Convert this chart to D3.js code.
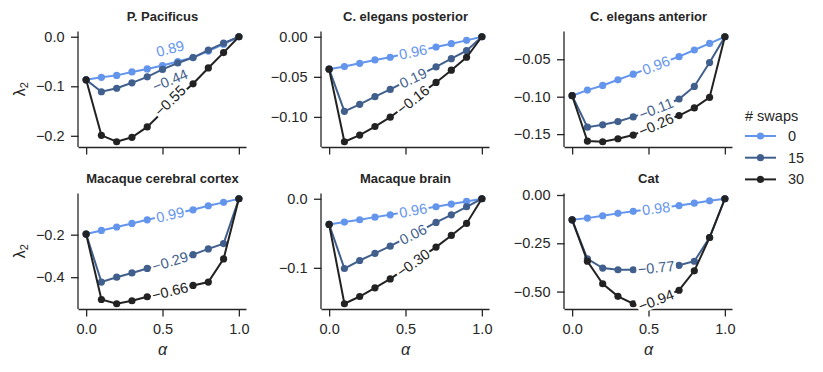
<!DOCTYPE html>
<html>
<head>
<meta charset="utf-8">
<script src="https://cdn.jsdelivr.net/npm/d3@7"></script>
<style>
  body { margin: 0; background: #fff; }
  text { font-family: "Liberation Sans", Arial, sans-serif; fill: #262626; }
</style>
</head>
<body>
<div id="chart"></div>
<script>
var w = 823;
var h = 372;

var alphas = [0, 0.1, 0.2, 0.3, 0.4, 0.5, 0.6, 0.7, 0.8, 0.9, 1.0];
var swaps = ["0", "15", "30"];
var colors = ["#6495ed", "#415f8c", "#222222"];
var titles = ["P. Pacificus", "C. elegans posterior", "C. elegans anterior",
              "Macaque cerebral cortex", "Macaque brain", "Cat"];

// lambda_2 per swap count (0, 15, 30), one block per network
var pPacificus = [
  [-0.087, -0.082, -0.078, -0.071, -0.065, -0.058, -0.050, -0.042, -0.029, -0.015, 0.0],
  [-0.087, -0.111, -0.104, -0.093, -0.081, -0.066, -0.053, -0.042, -0.027, -0.013, 0.0],
  [-0.087, -0.199, -0.212, -0.203, -0.182, -0.152, -0.122, -0.095, -0.063, -0.032, 0.0]
];
var celegansPost = [
  [-0.0405, -0.0372, -0.0331, -0.0289, -0.0256, -0.021, -0.017, -0.0128, -0.0087, -0.0045, 0.0],
  [-0.0405, -0.093, -0.0843, -0.0748, -0.0657, -0.056, -0.047, -0.0376, -0.0273, -0.0174, 0.0],
  [-0.0405, -0.131, -0.1227, -0.112, -0.1004, -0.086, -0.071, -0.057, -0.0417, -0.0256, 0.0]
];
var celegansAnt = [
  [-0.0987, -0.0912, -0.085, -0.0774, -0.0699, -0.062, -0.054, -0.0465, -0.0376, -0.0288, -0.0199],
  [-0.0987, -0.1407, -0.1376, -0.1332, -0.127, -0.120, -0.112, -0.1031, -0.0863, -0.0544, -0.0199],
  [-0.0987, -0.1593, -0.1602, -0.1562, -0.1513, -0.142, -0.133, -0.1252, -0.115, -0.1009, -0.0199]
];
var macaqueCortex = [
  [-0.197, -0.180, -0.164, -0.147, -0.130, -0.114, -0.098, -0.083, -0.064, -0.048, -0.031],
  [-0.197, -0.423, -0.400, -0.380, -0.359, -0.337, -0.315, -0.294, -0.267, -0.242, -0.031],
  [-0.197, -0.505, -0.525, -0.511, -0.492, -0.475, -0.457, -0.439, -0.423, -0.314, -0.031]
];
var macaqueBrain = [
  [-0.0372, -0.0338, -0.0304, -0.0266, -0.0232, -0.019, -0.015, -0.0116, -0.0077, -0.0039, 0.0],
  [-0.0372, -0.101, -0.0894, -0.0792, -0.0686, -0.057, -0.046, -0.0343, -0.0232, -0.0116, 0.0],
  [-0.0372, -0.152, -0.1415, -0.129, -0.116, -0.101, -0.085, -0.070, -0.0531, -0.0357, 0.0]
];
var cat = [
  [-0.1285, -0.1197, -0.1074, -0.0951, -0.0845, -0.075, -0.065, -0.0546, -0.0423, -0.0299, -0.0194],
  [-0.1285, -0.331, -0.3785, -0.387, -0.387, -0.380, -0.372, -0.364, -0.343, -0.220, -0.0194],
  [-0.1285, -0.343, -0.4595, -0.5246, -0.563, -0.560, -0.530, -0.493, -0.3926, -0.220, -0.0194]
];
var panels = [pPacificus, celegansPost, celegansAnt, macaqueCortex, macaqueBrain, cat];

// correlation shown on each line
var corrs = [[0.89, -0.44, -0.55], [0.96, 0.19, -0.16], [0.96, -0.11, -0.26],
             [0.99, -0.29, -0.66], [0.96, 0.06, -0.30], [0.98, -0.77, -0.94]];

var yTicks = [[0.0, -0.1, -0.2], [0.00, -0.05, -0.10], [-0.05, -0.10, -0.15],
              [-0.2, -0.4], [0.0, -0.1], [0.00, -0.25, -0.50]];
var yFormats = [".1f", ".2f", ".2f", ".1f", ".1f", ".2f"];
var xTicks = [0.0, 0.5, 1.0];

// label placement (alpha) and small pixel nudges
var labelAlpha = 0.55;
var labelNudge = [[-15, 14, -4], [0, 0, 0], [0, 0, 0], [0, 0, 0], [0, 0, 0], [0, 0, 0]];

var colX = [78.5, 321.5, 564.5];
var rowY = [31.5, 193.5];
var pw = 168;
var ph = 115.5;

var svg = d3.select("#chart")
            .append("svg")
            .attr("width", w)
            .attr("height", h);

panels.forEach(function(series, p) {
    var col = p % 3;
    var row = Math.floor(p / 3);
    var g = svg.append("g")
               .attr("transform", "translate(" + colX[col] + "," + rowY[row] + ")");

    var allVals = d3.merge(series);
    var ext = d3.extent(allVals);
    var pad = (ext[1] - ext[0]) * 0.05;

    var xScale = d3.scaleLinear().domain([-0.05, 1.05]).range([0, pw]);
    var yScale = d3.scaleLinear().domain([ext[0] - pad, ext[1] + pad]).range([ph, 0]);

    // axes
    var xAxis = d3.axisBottom(xScale).tickValues(xTicks).tickSize(7.5).tickPadding(7)
                  .tickFormat(row == 1 ? d3.format(".1f") : "");
    var yAxis = d3.axisLeft(yScale).tickValues(yTicks[p]).tickSize(7.5).tickPadding(6.5)
                  .tickFormat(d3.format(yFormats[p]));
    var gx = g.append("g").attr("transform", "translate(0," + ph + ")").call(xAxis);
    var gy = g.append("g").call(yAxis);
    [gx, gy].forEach(function(a) {
        a.select(".domain").attr("stroke", "#262626").attr("stroke-width", 1.3)
         .attr("d", a === gx ? "M0,0.5H" + pw : "M-0.5,0V" + ph);
        a.selectAll(".tick line").attr("stroke", "#262626").attr("stroke-width", 1.3);
        a.selectAll(".tick text").attr("font-size", "14.5px").attr("fill", "#262626")
         .attr("font-family", "'Liberation Sans', Arial, sans-serif");
    });

    // title
    g.append("text")
     .attr("x", pw / 2)
     .attr("y", -10.5)
     .attr("text-anchor", "middle")
     .attr("font-size", "13px")
     .attr("font-weight", "bold")
     .text(titles[p]);

    var line = d3.line()
                 .x(function(d, i) { return xScale(alphas[i]); })
                 .y(function(d) { return yScale(d); });

    series.forEach(function(vals, s) {
        g.append("path")
         .attr("d", line(vals))
         .attr("fill", "none")
         .attr("stroke", colors[s])
         .attr("stroke-width", 2);
        g.selectAll(null)
         .data(vals)
         .enter()
         .append("circle")
         .attr("cx", function(d, i) { return xScale(alphas[i]); })
         .attr("cy", function(d) { return yScale(d); })
         .attr("r", 3.6)
         .attr("fill", colors[s]);
    });

    // inline labels
    series.forEach(function(vals, s) {
        var i0 = 5, i1 = 6;
        var x0 = xScale(alphas[i0]), y0 = yScale(vals[i0]);
        var x1 = xScale(alphas[i1]), y1 = yScale(vals[i1]);
        var t = (labelAlpha - alphas[i0]) / (alphas[i1] - alphas[i0]);
        var lx = x0 + (x1 - x0) * t;
        var ly = y0 + (y1 - y0) * t + labelNudge[p][s];
        var ang = Math.atan2(y1 - y0, x1 - x0) * 180 / Math.PI;
        var lg = g.append("g")
                  .attr("transform", "translate(" + lx + "," + ly + ") rotate(" + ang + ")");
        var txt = lg.append("text")
                    .attr("text-anchor", "middle")
                    .attr("dy", "0.35em")
                    .attr("font-size", "14.5px")
                    .style("fill", colors[s])
                    .text(d3.format(".2f")(corrs[p][s]));
        var bb = txt.node().getBBox();
        lg.insert("rect", "text")
          .attr("x", bb.x - 1.5)
          .attr("y", bb.y + 1)
          .attr("width", bb.width + 3)
          .attr("height", bb.height - 2)
          .attr("fill", "white");
    });

    if (col == 0) {
        var yl = g.append("text")
                  .attr("transform", "translate(-54," + (ph / 2) + ") rotate(-90)")
                  .attr("text-anchor", "middle")
                  .attr("font-size", "16px");
        yl.append("tspan").text("λ");
        yl.append("tspan").attr("font-size", "11px").attr("dy", "3").text("2");
    }
    if (row == 1) {
        g.append("text")
         .attr("x", xScale(0.5))
         .attr("y", ph + 46)
         .attr("text-anchor", "middle")
         .attr("font-size", "16px")
         .attr("font-style", "italic")
         .text("α");
    }
});

// legend
var leg = svg.append("g").attr("transform", "translate(745,0)");
leg.append("text")
   .attr("x", 0)
   .attr("y", 121)
   .attr("font-size", "14.5px")
   .text("# swaps");
swaps.forEach(function(s, i) {
    var yy = 136 + i * 21.7;
    leg.append("line")
       .attr("x1", 0).attr("x2", 31)
       .attr("y1", yy).attr("y2", yy)
       .attr("stroke", colors[i])
       .attr("stroke-width", 2);
    leg.append("circle")
       .attr("cx", 15.5).attr("cy", yy).attr("r", 3.6)
       .attr("fill", colors[i]);
    leg.append("text")
       .attr("x", 43)
       .attr("y", yy + 5)
       .attr("font-size", "14.5px")
       .text(s);
});
</script>
</body>
</html>
